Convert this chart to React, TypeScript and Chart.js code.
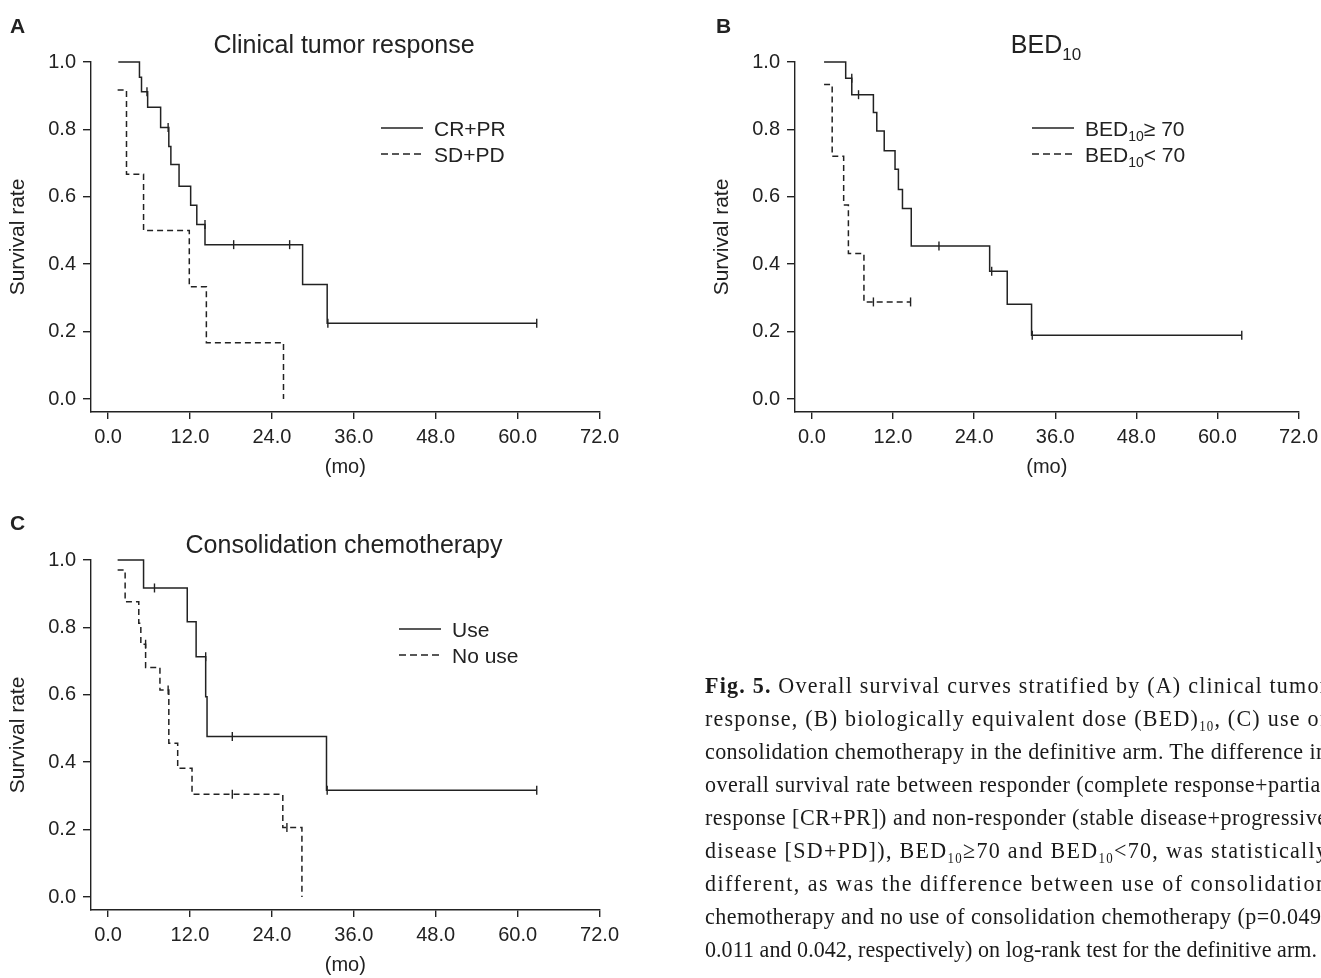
import React, { useEffect, useRef } from "react";
import { Chart, registerables } from "chart.js";

Chart.register(...registerables);

// ---------- axis ticks ----------
const xTicks = [0, 12, 24, 36, 48, 60, 72];
const yTicks = [0, 0.2, 0.4, 0.6, 0.8, 1.0];

// ---------- Panel A: clinical tumor response ----------
const crprTime = [1.5, 4.6, 4.9, 5.8, 7.7, 8.9, 9.2, 10.4, 12.1, 13.0, 14.2, 28.5, 32.1, 62.8];
const crprSurv = [1.0, 0.955, 0.912, 0.866, 0.806, 0.749, 0.696, 0.631, 0.575, 0.518, 0.458, 0.340, 0.225, 0.225];
const crprCensorTime = [5.7, 8.8, 14.2, 18.4, 26.6, 32.2, 62.8];
const crprCensorSurv = [0.912, 0.806, 0.518, 0.458, 0.458, 0.225, 0.225];

const sdpdTime = [1.4, 2.7, 5.2, 11.9, 14.4, 25.7];
const sdpdSurv = [0.917, 0.667, 0.500, 0.333, 0.167, 0.0];

// ---------- Panel B: BED10 ----------
const bedHiTime = [1.8, 5.0, 5.9, 9.1, 9.6, 10.7, 12.3, 12.8, 13.4, 14.7, 26.3, 28.9, 32.5, 63.6];
const bedHiSurv = [1.0, 0.952, 0.903, 0.850, 0.795, 0.737, 0.682, 0.622, 0.565, 0.454, 0.379, 0.281, 0.189, 0.189];
const bedHiCensorTime = [5.9, 6.9, 18.8, 26.6, 32.6, 63.6];
const bedHiCensorSurv = [0.952, 0.903, 0.454, 0.379, 0.189, 0.189];

const bedLoTime = [1.8, 3.0, 4.7, 5.4, 7.7, 14.6];
const bedLoSurv = [0.933, 0.720, 0.576, 0.432, 0.288, 0.288];
const bedLoCensorTime = [9.1, 14.6];
const bedLoCensorSurv = [0.288, 0.288];

// ---------- Panel C: consolidation chemotherapy ----------
const useTime = [1.4, 5.2, 11.6, 12.9, 14.3, 14.5, 32.0, 62.8];
const useSurv = [1.0, 0.917, 0.817, 0.713, 0.594, 0.476, 0.317, 0.317];
const useCensorTime = [6.8, 14.3, 18.2, 32.1, 62.8];
const useCensorSurv = [0.917, 0.713, 0.476, 0.317, 0.317];

const noUseTime = [1.4, 2.5, 4.5, 4.8, 5.5, 7.6, 8.9, 10.2, 12.3, 25.6, 28.4];
const noUseSurv = [0.970, 0.876, 0.812, 0.750, 0.681, 0.614, 0.456, 0.382, 0.305, 0.206, 0.0];
const noUseCensorTime = [5.5, 8.8, 18.2, 26.2];
const noUseCensorSurv = [0.750, 0.614, 0.305, 0.206];

const INK = "#222222";
const SANS = "'Liberation Sans', Arial, Helvetica, sans-serif";
const SERIF = "'Liberation Serif', 'Times New Roman', serif";

const zip = (t: number[], s: number[]) => t.map((v, i) => ({ x: v, y: s[i] }));

type Curve = { time: number[]; surv: number[]; cTime: number[]; cSurv: number[]; dashed: boolean };

function curveDatasets(c: Curve) {
  return [
    {
      data: zip(c.time, c.surv),
      stepped: "before" as const,
      borderColor: INK,
      borderWidth: 1.5,
      borderDash: c.dashed ? [6, 4] : [],
      pointRadius: 0,
      fill: false,
      tension: 0,
      clip: false as const,
    },
    {
      data: zip(c.cTime, c.cSurv),
      showLine: false,
      pointStyle: "line" as const,
      pointRotation: 90,
      pointRadius: 4.5,
      pointBorderWidth: 1.4,
      pointBorderColor: INK,
      pointBackgroundColor: INK,
      borderColor: INK,
      clip: false as const,
    },
  ];
}

function KMChart(props: { left: number; top: number; width: number; height: number; curves: Curve[] }) {
  const ref = useRef<HTMLCanvasElement>(null);
  useEffect(() => {
    const chart = new Chart(ref.current as HTMLCanvasElement, {
      type: "line",
      data: { datasets: props.curves.flatMap(curveDatasets) as any },
      options: {
        animation: false,
        responsive: false,
        devicePixelRatio: 1,
        events: [],
        layout: { padding: { left: 0, right: 24, top: 32, bottom: 0 } },
        plugins: { legend: { display: false }, tooltip: { enabled: false }, title: { display: false } },
        scales: {
          x: {
            type: "linear",
            min: -2.5,
            max: 72,
            afterBuildTicks: (s: any) => {
              s.ticks = xTicks.map((v) => ({ value: v }));
            },
            afterFit: (s: any) => {
              s.height = 70;
            },
            ticks: {
              autoSkip: false,
              maxRotation: 0,
              padding: 6,
              color: INK,
              font: { family: SANS, size: 20 },
              callback: (v: any) => Number(v).toFixed(1),
            },
            grid: { display: true, drawOnChartArea: false, drawTicks: true, tickLength: 7, color: INK, lineWidth: 1.4 },
            border: { display: true, color: INK, width: 1.4 },
            title: { display: true, text: "(mo)", color: INK, font: { family: SANS, size: 20 }, padding: { top: 0, bottom: 3 } },
          },
          y: {
            type: "linear",
            min: -0.0386,
            max: 1.0,
            afterBuildTicks: (s: any) => {
              s.ticks = yTicks.map((v) => ({ value: v }));
            },
            afterFit: (s: any) => {
              s.width = 91;
            },
            ticks: {
              padding: 7,
              color: INK,
              font: { family: SANS, size: 20 },
              callback: (v: any) => Number(v).toFixed(1),
            },
            grid: { display: true, drawOnChartArea: false, drawTicks: true, tickLength: 8, color: INK, lineWidth: 1.4 },
            border: { display: true, color: INK, width: 1.4 },
            title: { display: true, text: "Survival rate", color: INK, font: { family: SANS, size: 21 }, padding: { top: 6, bottom: 0 } },
          },
        },
      } as any,
    });
    return () => chart.destroy();
  }, []);
  return (
    <canvas
      ref={ref}
      width={props.width}
      height={props.height}
      style={{ position: "absolute", left: props.left, top: props.top, width: props.width, height: props.height }}
    />
  );
}

function LegendRow(props: { x: number; y: number; dashed: boolean; children: React.ReactNode }) {
  return (
    <g>
      <line
        x1={props.x}
        x2={props.x + 42}
        y1={props.y}
        y2={props.y}
        stroke={INK}
        strokeWidth={1.5}
        strokeDasharray={props.dashed ? "7 4" : undefined}
      />
      <text x={props.x + 53} y={props.y + 7.5} fontFamily={SANS} fontSize={21} fill={INK}>
        {props.children}
      </text>
    </g>
  );
}

export default function App() {
  const capX = 705;
  const capScale = 0.92;
  const capW = 622 / capScale;
  const capY0 = 693;
  const capDy = 33;
  const capLine = (i: number) => capY0 + i * capDy;
  const sub = (t: string) => (
    <tspan fontSize={14} dy={5}>{t}</tspan>
  );
  return (
    <div style={{ position: "fixed", left: 0, top: 0, width: 1321, height: 978, overflow: "hidden", background: "#fff" }}>
      <KMChart
        left={0}
        top={30}
        width={625}
        height={452}
        curves={[
          { time: crprTime, surv: crprSurv, cTime: crprCensorTime, cSurv: crprCensorSurv, dashed: false },
          { time: sdpdTime, surv: sdpdSurv, cTime: [], cSurv: [], dashed: true },
        ]}
      />
      <KMChart
        left={704}
        top={30}
        width={620}
        height={452}
        curves={[
          { time: bedHiTime, surv: bedHiSurv, cTime: bedHiCensorTime, cSurv: bedHiCensorSurv, dashed: false },
          { time: bedLoTime, surv: bedLoSurv, cTime: bedLoCensorTime, cSurv: bedLoCensorSurv, dashed: true },
        ]}
      />
      <KMChart
        left={0}
        top={528}
        width={625}
        height={452}
        curves={[
          { time: useTime, surv: useSurv, cTime: useCensorTime, cSurv: useCensorSurv, dashed: false },
          { time: noUseTime, surv: noUseSurv, cTime: noUseCensorTime, cSurv: noUseCensorSurv, dashed: true },
        ]}
      />
      <svg width={1321} height={978} style={{ position: "absolute", left: 0, top: 0, pointerEvents: "none" }}>
        {/* panel letters */}
        <text x={10} y={33} fontFamily={SANS} fontSize={21} fontWeight="bold" fill={INK}>A</text>
        <text x={716} y={33} fontFamily={SANS} fontSize={21} fontWeight="bold" fill={INK}>B</text>
        <text x={10} y={530} fontFamily={SANS} fontSize={21} fontWeight="bold" fill={INK}>C</text>

        {/* titles */}
        <text x={344} y={53} textAnchor="middle" fontFamily={SANS} fontSize={25} fill={INK}>Clinical tumor response</text>
        <text x={1046} y={53} textAnchor="middle" fontFamily={SANS} fontSize={25} fill={INK}>
          BED<tspan fontSize={17} dy={7}>10</tspan>
        </text>
        <text x={344} y={553} textAnchor="middle" fontFamily={SANS} fontSize={25} fill={INK}>Consolidation chemotherapy</text>

        {/* legends */}
        <LegendRow x={381} y={128} dashed={false}>CR+PR</LegendRow>
        <LegendRow x={381} y={154} dashed={true}>SD+PD</LegendRow>
        <LegendRow x={1032} y={128} dashed={false}>
          BED<tspan fontSize={14} dy={5}>10</tspan><tspan dy={-5}>≥ 70</tspan>
        </LegendRow>
        <LegendRow x={1032} y={154} dashed={true}>
          BED<tspan fontSize={14} dy={5}>10</tspan><tspan dy={-5}>&lt; 70</tspan>
        </LegendRow>
        <LegendRow x={399} y={629} dashed={false}>Use</LegendRow>
        <LegendRow x={399} y={655} dashed={true}>No use</LegendRow>

        {/* caption */}
        <g transform={`translate(${capX},0) scale(${capScale},1)`} fontFamily={SERIF} fontSize={24} fill="#1a1a1a">
          <text x={0} y={capLine(0)} textLength={capW} lengthAdjust="spacing">
            <tspan fontWeight="bold">Fig. 5.</tspan>{" Overall survival curves stratified by (A) clinical tumor"}
          </text>
          <text x={0} y={capLine(1)} textLength={capW} lengthAdjust="spacing">
            {"response, (B) biologically equivalent dose (BED)"}
            {sub("10")}
            <tspan dy={-5}>{", (C) use of"}</tspan>
          </text>
          <text x={0} y={capLine(2)} textLength={capW} lengthAdjust="spacing">
            {"consolidation chemotherapy in the definitive arm. The difference in"}
          </text>
          <text x={0} y={capLine(3)} textLength={capW} lengthAdjust="spacing">
            {"overall survival rate between responder (complete response+partial"}
          </text>
          <text x={0} y={capLine(4)} textLength={capW} lengthAdjust="spacing">
            {"response [CR+PR]) and non-responder (stable disease+progressive"}
          </text>
          <text x={0} y={capLine(5)} textLength={capW} lengthAdjust="spacing">
            {"disease [SD+PD]), BED"}
            {sub("10")}
            <tspan dy={-5}>{"≥70 and BED"}</tspan>
            {sub("10")}
            <tspan dy={-5}>{"<70, was statistically"}</tspan>
          </text>
          <text x={0} y={capLine(6)} textLength={capW} lengthAdjust="spacing">
            {"different, as was the difference between use of consolidation"}
          </text>
          <text x={0} y={capLine(7)} textLength={capW} lengthAdjust="spacing">
            {"chemotherapy and no use of consolidation chemotherapy (p=0.049,"}
          </text>
          <text x={0} y={capLine(8)} textLength={612 / capScale} lengthAdjust="spacing">
            {"0.011 and 0.042, respectively) on log-rank test for the definitive arm."}
          </text>
        </g>
      </svg>
    </div>
  );
}
